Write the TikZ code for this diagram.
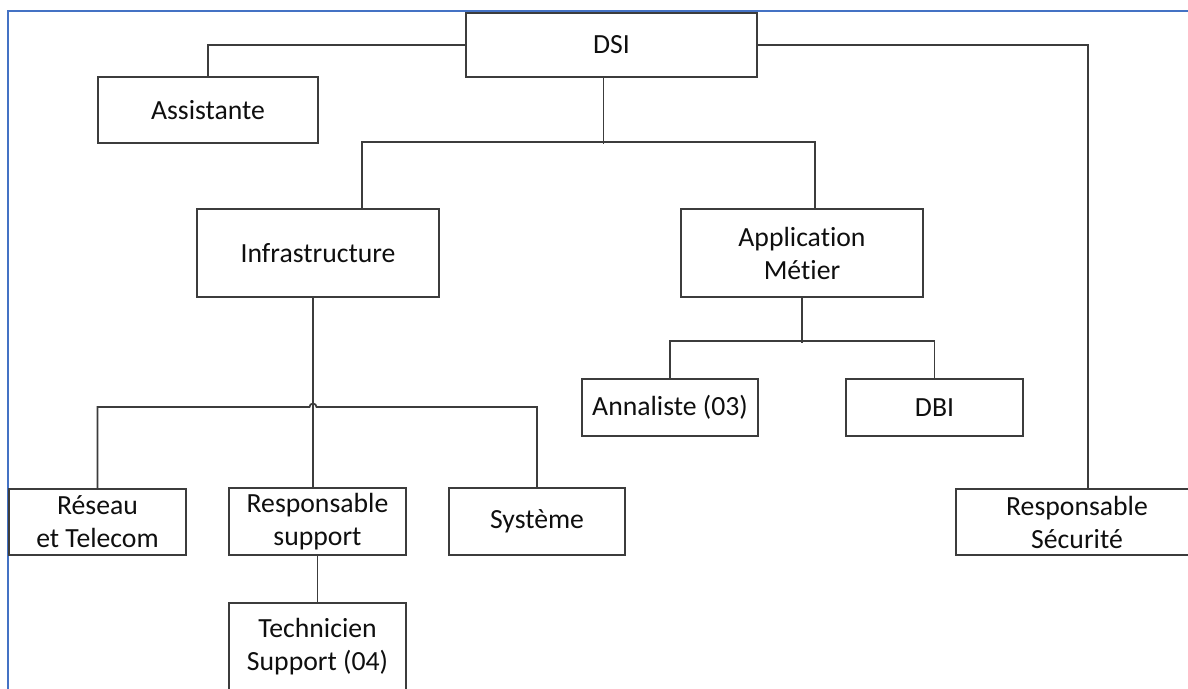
\documentclass[tikz,border=0pt]{standalone}
\usepackage{fontspec}
\setmainfont{Carlito}[Ligatures=NoCommon]
\definecolor{framblue}{RGB}{68,114,196}
\definecolor{boxline}{RGB}{60,60,60}
\definecolor{boxtext}{RGB}{15,15,15}

\begin{document}
\begin{tikzpicture}[x=1pt, y=-1pt,
    box/.style={draw=boxline, line width=1.8pt, fill=white, text=boxtext, align=center, inner sep=0pt,
      font=\fontsize{27.7}{33}\selectfont},
    link/.style={draw=boxline, line width=1.7pt}]

    \useasboundingbox (0,0) rectangle (1188,688);
    \fill[white] (0,0) rectangle (1188,688);
    \draw[framblue, line width=2.4pt] (8,11) rectangle (1210,710);

    \node[box, minimum width=291, minimum height=64] (dsi) at (611.5,45) {DSI};
    \node[box, minimum width=220, minimum height=66] (assist) at (208,110) {Assistante};
    \node[box, minimum width=242, minimum height=88] (infra) at (318,253) {Infrastructure};
    \node[box, minimum width=242, minimum height=88] (app) at (802,253) {Application\\Métier};
    \node[box, minimum width=176, minimum height=57] (annal) at (670,407.5) {Annaliste (03)};
    \node[box, minimum width=177, minimum height=57] (dbi) at (934.5,407.5) {DBI};
    \node[box, minimum width=177, minimum height=66] (reseau) at (97.5,522) {Réseau\\et Telecom};
    \node[box, minimum width=177, minimum height=67] (resp) at (317.5,521.5) {Responsable\\support};
    \node[box, minimum width=176, minimum height=67] (systeme) at (537,521.5) {Système};
    \node[box, minimum width=242, minimum height=66] (secu) at (1077,522) {Responsable\\Sécurité};
    \node[box, minimum width=177, minimum height=88] (tech) at (317.5,647) {Technicien\\Support (04)};

    \draw[link] (assist.north) |- (dsi.west);
    \draw[link] (dsi.east) -| ([xshift=11pt]secu.north);
    \draw[link] ([xshift=-8pt]dsi.south) -- ++(0,66);
    \draw[link] ([xshift=44pt]infra.north) -- ++(0,-66) -| ([xshift=13pt]app.north);

    \draw[link] (app.south) -- ++(0,45);
    \draw[link] (annal.north) -- ++(0,-37) -| (dbi.north);

    \coordinate (jinf) at ([xshift=-5pt]infra.south |- 0,407);
    \draw[link] ([xshift=-5pt]infra.south) -- ([xshift=-5pt]infra.south |- resp.north);
    \draw[link] (reseau.north) |- ([xshift=-3.5pt]jinf) arc (180:360:3.5) -| (systeme.north);
    \draw[link] (resp.south) -- (tech.north);
  \end{tikzpicture}
\end{document}
